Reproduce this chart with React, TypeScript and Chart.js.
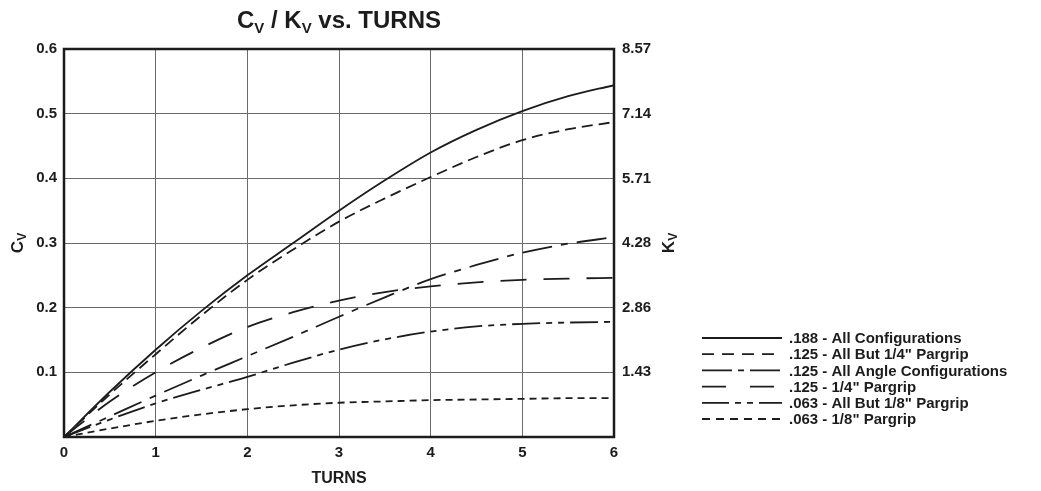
import React, { useEffect, useRef } from 'react';
import { Chart, registerables } from 'chart.js';

Chart.register(...registerables);

// ---------- data ----------
const TURNS = [0, 0.5, 1, 1.5, 2, 2.5, 3, 3.5, 4, 4.5, 5, 5.5, 6];
const CV_188_ALL = [0, 0.07, 0.135, 0.195, 0.25, 0.3, 0.35, 0.397, 0.44, 0.475, 0.504, 0.527, 0.544];
const CV_125_ALL_BUT_QUARTER = [0, 0.066, 0.128, 0.188, 0.243, 0.29, 0.333, 0.369, 0.402, 0.433, 0.459, 0.476, 0.487];
const CV_125_ALL_ANGLE = [0, 0.032, 0.064, 0.095, 0.125, 0.155, 0.186, 0.216, 0.244, 0.266, 0.285, 0.299, 0.309];
const CV_125_QUARTER = [0, 0.055, 0.1, 0.138, 0.17, 0.193, 0.211, 0.224, 0.233, 0.239, 0.243, 0.245, 0.246];
const CV_063_ALL_BUT_EIGHTH = [0, 0.027, 0.052, 0.073, 0.093, 0.115, 0.135, 0.151, 0.163, 0.171, 0.175, 0.177, 0.178];
const CV_063_EIGHTH = [0, 0.013, 0.025, 0.035, 0.043, 0.049, 0.053, 0.055, 0.057, 0.058, 0.059, 0.06, 0.06];

const SERIES_LABELS = [
  '.188 - All Configurations',
  '.125 - All But 1/4" Pargrip',
  '.125 - All Angle Configurations',
  '.125 - 1/4" Pargrip',
  '.063 - All But 1/8" Pargrip',
  '.063 - 1/8" Pargrip',
];
const SERIES_VALUES = [
  CV_188_ALL,
  CV_125_ALL_BUT_QUARTER,
  CV_125_ALL_ANGLE,
  CV_125_QUARTER,
  CV_063_ALL_BUT_EIGHTH,
  CV_063_EIGHTH,
];

const X_MIN = 0;
const X_MAX = 6;
const CV_MIN = 0;
const CV_MAX = 0.6;
const CV_STEP = 0.1;
const KV_MAX = 8.57;
const KV_TICKS = [1.43, 2.86, 4.28, 5.71, 7.14, 8.57];

// ---------- styles ----------
const DASHES: number[][] = [
  [],
  [11, 6],
  [30, 9, 7, 9],
  [26, 17],
  [28, 6, 6, 6, 6, 6],
  [7, 5],
];
const LEGEND_DASHES: number[][] = [
  [],
  [12, 8],
  [30, 6, 6, 6],
  [24, 24],
  [27, 6, 6, 6, 6, 6],
  [8, 6],
];
const INK = '#1c1c1c';
const FONT = '"Liberation Sans", Arial, Helvetica, sans-serif';

type Part = { t: string; size: number; dy?: number };

function drawRich(ctx: CanvasRenderingContext2D, parts: Part[], cx: number, baseY: number) {
  let total = 0;
  const widths = parts.map((p) => {
    ctx.font = `bold ${p.size}px ${FONT}`;
    const w = ctx.measureText(p.t).width;
    total += w;
    return w;
  });
  let x = cx - total / 2;
  ctx.textAlign = 'left';
  ctx.textBaseline = 'alphabetic';
  parts.forEach((p, i) => {
    ctx.font = `bold ${p.size}px ${FONT}`;
    ctx.fillText(p.t, x, baseY + (p.dy || 0));
    x += widths[i];
  });
}

const decorPlugin = {
  id: 'decor',
  afterDatasetsDraw(chart: any) {
    const { ctx, chartArea } = chart;
    ctx.save();
    ctx.strokeStyle = INK;
    ctx.lineWidth = 2.5;
    ctx.setLineDash([]);
    ctx.strokeRect(chartArea.left, chartArea.top, chartArea.right - chartArea.left, chartArea.bottom - chartArea.top);
    ctx.restore();
  },
  afterDraw(chart: any) {
    const { ctx, chartArea } = chart;
    ctx.save();
    ctx.fillStyle = INK;
    const cx = (chartArea.left + chartArea.right) / 2;
    drawRich(
      ctx,
      [
        { t: 'C', size: 24 },
        { t: 'V', size: 15, dy: 5 },
        { t: ' / K', size: 24 },
        { t: 'V', size: 15, dy: 5 },
        { t: ' vs. TURNS', size: 24 },
      ],
      cx,
      28
    );
    const midY = (chartArea.top + chartArea.bottom) / 2;
    ctx.save();
    ctx.translate(23, midY);
    ctx.rotate(-Math.PI / 2);
    drawRich(ctx, [{ t: 'C', size: 17 }, { t: 'V', size: 12, dy: 3 }], 0, 0);
    ctx.restore();
    ctx.save();
    ctx.translate(674, midY);
    ctx.rotate(-Math.PI / 2);
    drawRich(ctx, [{ t: 'K', size: 17 }, { t: 'V', size: 12, dy: 3 }], 0, 0);
    ctx.restore();

    // legend
    const lx0 = 702;
    const lx1 = 782;
    const tx = 789;
    chart.data.datasets.forEach((ds: any, i: number) => {
      const y = 338 + i * 16.2;
      ctx.beginPath();
      ctx.setLineDash(LEGEND_DASHES[i]);
      ctx.lineWidth = 1.8;
      ctx.strokeStyle = INK;
      ctx.moveTo(lx0, y);
      ctx.lineTo(lx1, y);
      ctx.stroke();
      ctx.setLineDash([]);
      ctx.font = `bold 15px ${FONT}`;
      ctx.textAlign = 'left';
      ctx.textBaseline = 'middle';
      ctx.fillText(ds.label, tx, y + 1);
    });
    ctx.restore();
  },
};

export default function App() {
  const ref = useRef<HTMLCanvasElement>(null);
  useEffect(() => {
    const tickFont = { family: FONT, size: 15, weight: 'bold' as const };
    const chart = new Chart(ref.current as HTMLCanvasElement, {
      type: 'line',
      data: {
        datasets: SERIES_VALUES.map((vals, i) => ({
          label: SERIES_LABELS[i],
          data: TURNS.map((t, j) => ({ x: t, y: vals[j] })),
          borderColor: INK,
          borderWidth: 1.8,
          borderDash: DASHES[i],
          pointRadius: 0,
          fill: false,
          cubicInterpolationMode: 'monotone' as const,
          yAxisID: 'y',
        })),
      },
      options: {
        animation: false,
        responsive: false,
        layout: { padding: { top: 49, right: 367, bottom: 0, left: 0 } },
        plugins: {
          legend: { display: false },
          tooltip: { enabled: false },
          title: { display: false },
        },
        scales: {
          x: {
            type: 'linear',
            min: X_MIN,
            max: X_MAX,
            ticks: { stepSize: 1, font: tickFont, color: INK, padding: 7 },
            grid: { color: '#6b6b6b', lineWidth: 1, drawTicks: false },
            border: { display: false },
            title: {
              display: true,
              text: 'TURNS',
              color: INK,
              font: { family: FONT, size: 16, weight: 'bold' },
              padding: { top: 0, bottom: 3 },
            },
            afterFit: (s: any) => {
              s.height = 54;
            },
          },
          y: {
            position: 'left',
            min: CV_MIN,
            max: CV_MAX,
            ticks: {
              stepSize: CV_STEP,
              font: tickFont,
              color: INK,
              padding: 7,
              callback: (v: any) => (Math.abs(Number(v)) < 1e-9 ? '' : Number(v).toFixed(1)),
            },
            grid: { color: '#6b6b6b', lineWidth: 1, drawTicks: false },
            border: { display: false },
            afterFit: (s: any) => {
              s.width = 64;
            },
          },
          y2: {
            position: 'right',
            min: 0,
            max: KV_MAX,
            afterBuildTicks: (s: any) => {
              s.ticks = KV_TICKS.map((v) => ({ value: v }));
            },
            ticks: {
              font: tickFont,
              color: INK,
              padding: 8,
              callback: (v: any) => Number(v).toFixed(2),
            },
            grid: { display: false, drawTicks: false },
            border: { display: false },
            afterFit: (s: any) => {
              s.width = 60;
            },
          },
        },
      },
      plugins: [decorPlugin],
    });
    return () => chart.destroy();
  }, []);
  return (
    <div style={{ position: 'fixed', left: 0, top: 0, width: 1041, height: 491, background: '#fff' }}>
      <canvas ref={ref} width={1041} height={491} style={{ display: 'block' }} />
    </div>
  );
}
